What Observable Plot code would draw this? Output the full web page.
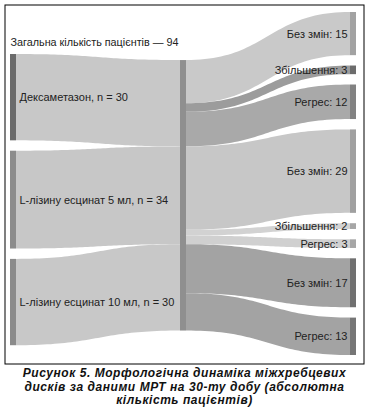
<!DOCTYPE html>
<html>
<head>
<meta charset="utf-8">
<script src="https://cdn.jsdelivr.net/npm/d3@7"></script>
<script src="https://cdn.jsdelivr.net/npm/@observablehq/plot@0.6"></script>
<style>
  body { margin: 0; background: #fff; width: 369px; }
  #caption { font: italic bold 12px "Liberation Sans", Arial, sans-serif; letter-spacing: 0.55px; text-align: center; line-height: 13.5px; margin-top: 1px; color: #111; }
</style>
</head>
<body>
<div id="chart"></div>
<div id="caption">Рисунок 5. Морфологічна динаміка міжхребцевих<br>дисків за даними МРТ на 30-ту добу (абсолютна<br>кількість пацієнтів)</div>
<script>
// ---- data ----
const totalLabel = "Загальна кількість пацієнтів — 94";
const groups = ["Дексаметазон, n = 30", "L-лізину есцинат 5 мл, n = 34", "L-лізину есцинат 10 мл, n = 30"];
const groupN = [30, 34, 30];
const outcomeNames = ["Без змін", "Збільшення", "Регрес", "Без змін", "Збільшення", "Регрес", "Без змін", "Регрес"];
const outcomeGroup = [0, 0, 0, 1, 1, 1, 2, 2];
const outcomeValues = [15, 3, 12, 29, 2, 3, 17, 13];

// ---- styles ----
const groupNodeColor = ["#6b6b6b", "#8c8c8c", "#8b8b8b"];
const groupLinkColor = ["#c8c8c8", "#c7c7c7", "#c8c8c8"];
const totalNodeColor = "#8f8f8f";
const outcomeNodeColor = ["#a2a2a2", "#6c6c6c", "#828282", "#a0a0a0", "#a6a6a6", "#a6a6a6", "#707070", "#767676"];
const outcomeLinkColor = ["#c9c9c9", "#9c9c9c", "#a9a9a9", "#c7c7c7", "#d2d2d2", "#d0d0d0", "#a3a3a3", "#a3a3a3"];

// ---- layout (in patient units) ----
const PAD = 3.6;            // gap between nodes
const NW = 0.0353;          // node width in column units
const colTop = [14.6, 16.7, 0];
const total = d3.sum(groupN);
const span = total + (outcomeValues.length - 1) * PAD;

const nodes = [];
let y = colTop[0];
groups.forEach((g, i) => {
  nodes.push({col: 0, y0: y, y1: y + groupN[i], fill: groupNodeColor[i], label: g});
  y += groupN[i] + PAD;
});
const mid = {col: 1, y0: colTop[1], y1: colTop[1] + total, fill: totalNodeColor, label: totalLabel};
nodes.push(mid);
const right = [];
y = colTop[2];
outcomeValues.forEach((v, j) => {
  const n = {col: 2, y0: y, y1: y + v, fill: outcomeNodeColor[j], label: `${outcomeNames[j]}: ${v}`};
  right.push(n); nodes.push(n);
  y += v + PAD;
});

const links = [];
let cum = mid.y0;
groups.forEach((g, i) => {
  const s = nodes[i];
  links.push({xa: 0 + NW, xb: 1, sa: s.y0, sb: s.y1, ta: cum, tb: cum + groupN[i], fill: groupLinkColor[i]});
  cum += groupN[i];
});
cum = mid.y0;
outcomeValues.forEach((v, j) => {
  const t = right[j];
  links.push({xa: 1 + NW, xb: 2, sa: cum, sb: cum + v, ta: t.y0, tb: t.y1, fill: outcomeLinkColor[j]});
  cum += v;
});

const samples = [];
const N = 48;
links.forEach((l, id) => {
  for (let k = 0; k <= N; k++) {
    const t = k / N;
    const fx = 1.5 * t * (1 - t) + t * t * t;
    const fy = 3 * t * t - 2 * t * t * t;
    samples.push({
      id, fill: l.fill,
      x: l.xa + (l.xb - l.xa) * fx,
      top: l.sa + (l.ta - l.sa) * fy,
      bottom: l.sb + (l.tb - l.sb) * fy
    });
  }
});

const leftLabels = nodes.filter(n => n.col === 0);
const rightLabels = right;

const chart = Plot.plot({
  width: 369,
  height: 366,
  marginLeft: 4.5,
  marginTop: 4.5,
  marginRight: 5.5,
  marginBottom: 2.5,
  x: {domain: [0, 2 + NW], range: [10, 356], axis: null},
  y: {domain: [0, span], range: [12, 355], axis: null},
  color: {type: "identity"},
  style: {fontFamily: "'Liberation Sans', Arial, sans-serif", fontSize: "11px", background: "#fff"},
  marks: [
    Plot.areaY(samples, {x: "x", y1: "top", y2: "bottom", z: "id", fill: "fill", curve: "linear"}),
    Plot.rect(nodes, {x1: d => d.col, x2: d => d.col + NW, y1: "y0", y2: "y1", fill: "fill"}),
    Plot.text(leftLabels, {x: d => d.col + NW, y: d => (d.y0 + d.y1) / 2, text: "label", textAnchor: "start", dx: 3, fill: "#222", fontSize: 11}),
    Plot.text([mid], {x: 0, y: d => nodes[0].y0, text: "label", textAnchor: "start", dy: -12, fill: "#222", fontSize: 10.8}),
    Plot.text(rightLabels, {x: 2, y: d => (d.y0 + d.y1) / 2, text: "label", textAnchor: "end", dx: -3, fill: "#222", fontSize: 11}),
    Plot.frame({stroke: "#000", strokeWidth: 1})
  ]
});
document.getElementById("chart").appendChild(chart);
</script>
</body>
</html>
